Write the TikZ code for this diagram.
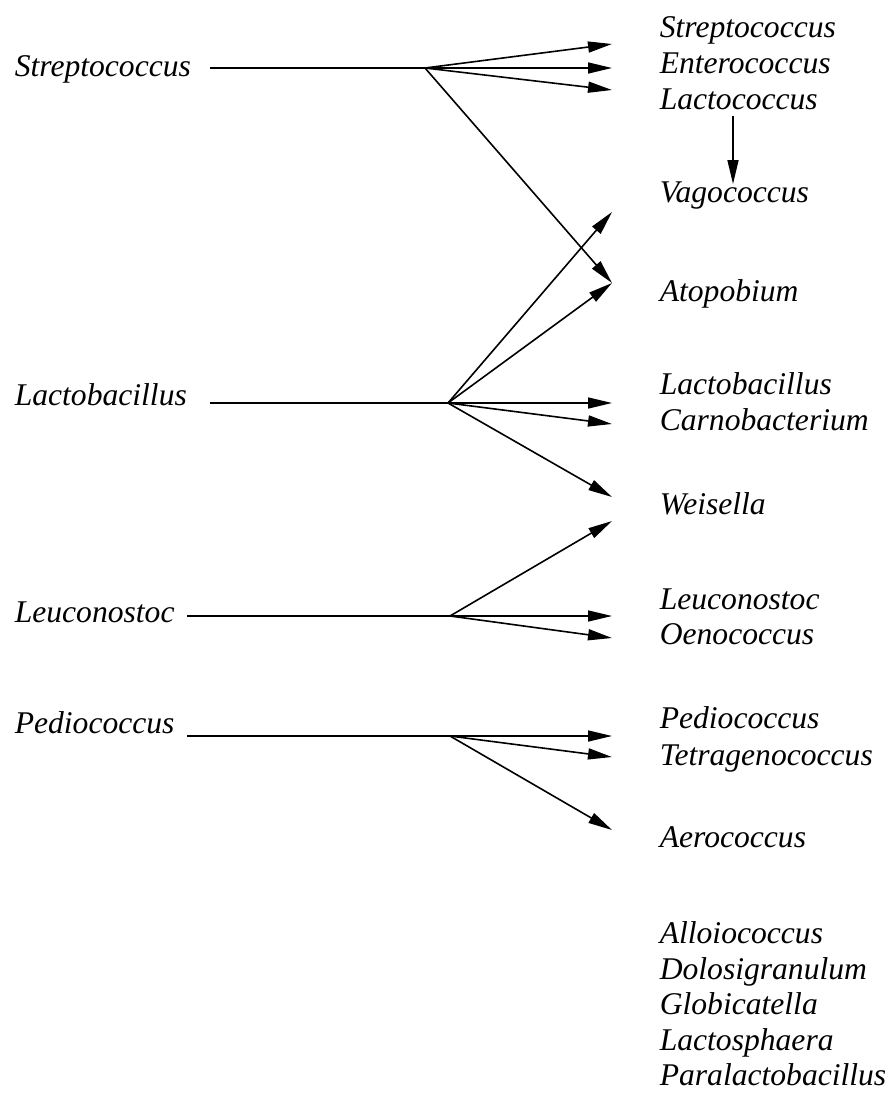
\documentclass[tikz,border=0pt]{standalone}
\usepackage{fontspec}
\setmainfont{Liberation Serif}
\usetikzlibrary{arrows.meta,positioning}

\begin{document}
\begin{tikzpicture}[x=0.5pt,y=-0.5pt,>={Triangle[length=12pt,width=5.5pt]},line width=0.8pt,
  genus/.style={anchor=base west,inner sep=0pt,font=\fontsize{15.8}{18}\selectfont\itshape}]
\useasboundingbox (0,0) rectangle (889,1097);

% old genera
\node[genus] (strepL) at (14,76) {Streptococcus};
\node[genus] (lactoL) at (14,405) {Lactobacillus};
\node[genus] (leucoL) at (14,622) {Leuconostoc};
\node[genus] (pedioL) at (14,733) {Pediococcus};

% new genera
\node[genus] (strepR) at (659,38) {Streptococcus};
\node[genus] (enterR) at (659,74) {Enterococcus};
\node[genus] (lactcR) at (659,110) {Lactococcus};
\node[genus] (vagoR) at (659,202) {Vagococcus};
\node[genus] (atopR) at (659,301) {Atopobium};
\node[genus] (lactoR) at (659,394) {Lactobacillus};
\node[genus] (carnoR) at (659,430) {Carnobacterium};
\node[genus] (weisR) at (659,514) {Weisella};
\node[genus] (leucoR) at (659,609) {Leuconostoc};
\node[genus] (oenoR) at (659,644) {Oenococcus};
\node[genus] (pedioR) at (659,728) {Pediococcus};
\node[genus] (tetraR) at (659,765) {Tetragenococcus};
\node[genus] (aeroR) at (659,847) {Aerococcus};
\node[genus] (alloR) at (659,943) {Alloiococcus};
\node[genus] (doloR) at (659,979) {Dolosigranulum};
\node[genus] (globR) at (659,1014) {Globicatella};
\node[genus] (lsphR) at (659,1050) {Lactosphaera};
\node[genus] (paraR) at (659,1085) {Paralactobacillus};

% branch points
\coordinate (sA) at (210,68);  \coordinate (sB) at (425,68);
\coordinate (lA) at (210,403); \coordinate (lB) at (448,403);
\coordinate (cA) at (187,616); \coordinate (cB) at (450,616);
\coordinate (pA) at (187,736); \coordinate (pB) at (450,736);

% arrow ends
\coordinate (strepE) at (612,44);
\coordinate (enterE) at (612,68);
\coordinate (lactcE) at (612,90);
\coordinate (vagoE) at (612,212);
\coordinate (atopE) at (612,283);
\coordinate (lactoE) at (612,403);
\coordinate (carnoE) at (612,424);
\coordinate (weisE) at (612,497);
\coordinate (weisF) at (612,521);
\coordinate (leucoE) at (612,616);
\coordinate (oenoE) at (612,638);
\coordinate (pedioE) at (612,736);
\coordinate (tetraE) at (612,757);
\coordinate (aeroE) at (612,830);

\draw (sA) -- (sB);
\draw (lA) -- (lB);
\draw (cA) -- (cB);
\draw (pA) -- (pB);

\path[->] (sB) edge (strepE)
               edge (enterE)
               edge (lactcE)
               edge (atopE)
          (lB) edge (vagoE)
               edge (atopE)
               edge (lactoE)
               edge (carnoE)
               edge (weisE)
          (cB) edge (weisF)
               edge (leucoE)
               edge (oenoE)
          (pB) edge (pedioE)
               edge (tetraE)
               edge (aeroE);

\draw[->] ([shift={(74,6)}]lactcR.base west) -- ([shift={(74,-18)}]vagoR.base west);
\end{tikzpicture}
\end{document}
